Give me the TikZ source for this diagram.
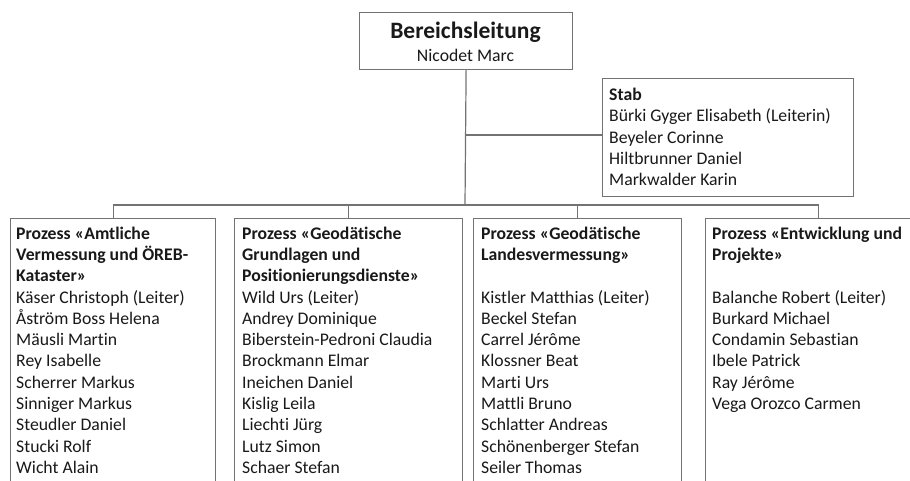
\documentclass[tikz,border=0pt]{standalone}
\usepackage{fontspec}
\setmainfont[Ligatures={NoCommon}]{Carlito}
\definecolor{linec}{gray}{0.45}
\definecolor{txtc}{gray}{0.1}
\tikzset{
  box/.style={draw=linec, line width=1.2pt, fill=white, anchor=north west, inner sep=0pt},
  txt/.style={anchor=north west, inner sep=0pt, align=left, text=txtc,
    font=\fontsize{17.7}{21.3}\selectfont},
  conn/.style={draw=linec, line width=1.2pt}
}
\begin{document}
\begin{tikzpicture}[x=1pt,y=-1pt]
\useasboundingbox (0,0) rectangle (910,481);
\clip (0,0) rectangle (910,481);
% boxes
\node[box, minimum width=213pt, minimum height=57pt] (top) at (359,12) {};
\node[box, minimum width=251pt, minimum height=118pt] (stab) at (602,78) {};
\node[box, minimum width=205pt, minimum height=300pt] (p1) at (10,218) {};
\node[box, minimum width=228pt, minimum height=300pt] (p2) at (234,218) {};
\node[box, minimum width=208pt, minimum height=300pt] (p3) at (473,218) {};
\node[box, minimum width=226pt, minimum height=300pt] (p4) at (705,218) {};
% texts
\node[anchor=base, inner sep=0pt, text=txtc, font=\fontsize{23.5}{25}\selectfont\bfseries] (topt) at (465.5,39) {Bereichsleitung};
\node[anchor=base, inner sep=0pt, text=txtc, font=\fontsize{17.7}{21.3}\selectfont] (topn) at (465.5,62) {Nicodet Marc};
\node[txt] (stabt) at (609,88) {\textbf{Stab}\\Bürki Gyger Elisabeth (Leiterin)\\Beyeler Corinne\\Hiltbrunner Daniel\\Markwalder Karin};
\node[txt] (p1t) at (16,226.5) {\textbf{Prozess «Amtliche}\\\textbf{Vermessung und ÖREB-}\\\textbf{Kataster»}\\Käser Christoph (Leiter)\\Åström Boss Helena\\Mäusli Martin\\Rey Isabelle\\Scherrer Markus\\Sinniger Markus\\Steudler Daniel\\Stucki Rolf\\Wicht Alain};
\node[txt] (p2t) at (242,226.5) {\textbf{Prozess «Geodätische}\\\textbf{Grundlagen und}\\\textbf{Positionierungsdienste»}\\Wild Urs (Leiter)\\Andrey Dominique\\Biberstein-Pedroni Claudia\\Brockmann Elmar\\Ineichen Daniel\\Kislig Leila\\Liechti Jürg\\Lutz Simon\\Schaer Stefan};
\node[txt] (p3t) at (481,226.5) {\textbf{Prozess «Geodätische}\\\textbf{Landesvermessung»}\\\mbox{}\\Kistler Matthias (Leiter)\\Beckel Stefan\\Carrel Jérôme\\Klossner Beat\\Marti Urs\\Mattli Bruno\\Schlatter Andreas\\Schönenberger Stefan\\Seiler Thomas};
\node[txt] (p4t) at (712,226.5) {\textbf{Prozess «Entwicklung und}\\\textbf{Projekte»}\\\mbox{}\\Balanche Robert (Leiter)\\Burkard Michael\\Condamin Sebastian\\Ibele Patrick\\Ray Jérôme\\Vega Orozco Carmen};
% connectors
\coordinate (bus) at (465,205);
\coordinate (sj) at (465,135);
\draw[conn] (top.south) -- (bus);
\draw[conn] (sj) -- (stab.west |- sj);
\draw[conn] (p1.north |- bus) -- (p4.north |- bus);
\draw[conn] (p1.north |- bus) -- (p1.north);
\draw[conn] (p2.north |- bus) -- (p2.north);
\draw[conn] (p3.north |- bus) -- (p3.north);
\draw[conn] (p4.north |- bus) -- (p4.north);
\end{tikzpicture}
\end{document}
